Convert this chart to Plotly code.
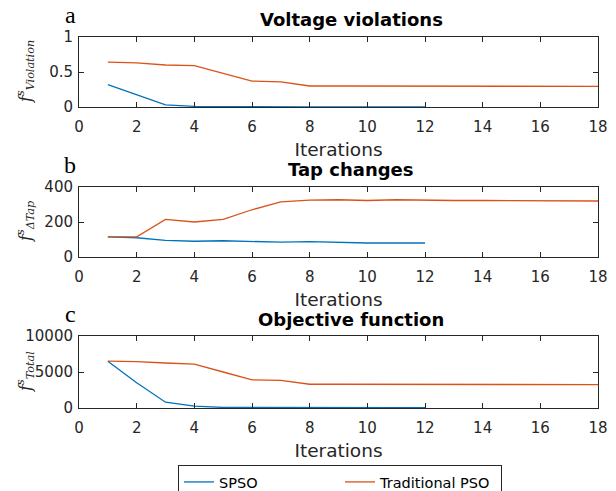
import plotly.graph_objects as go

iters_spso = list(range(1, 13))
iters_trad = list(range(1, 19))

volt_spso = [0.32, 0.17, 0.03, 0.01, 0.005, 0.0, 0.0, 0.0, 0.0, 0.0, 0.0, 0.0]
volt_trad = [0.64, 0.63, 0.60, 0.59, 0.48, 0.37, 0.36, 0.30, 0.30, 0.30, 0.30, 0.30,
             0.30, 0.30, 0.30, 0.295, 0.295, 0.295]

tap_spso = [115, 110, 95, 90, 93, 91, 85, 88, 83, 80, 80, 80]
tap_trad = [115, 115, 215, 200, 215, 270, 315, 325, 327, 323, 327, 323,
            323, 323, 323, 320, 320, 320]

obj_spso = [6500, 3500, 800, 250, 80, 60, 50, 50, 50, 50, 50, 50]
obj_trad = [6500, 6450, 6250, 6100, 5000, 3900, 3850, 3300, 3300, 3300, 3300, 3300,
            3300, 3300, 3300, 3250, 3250, 3250]

titles = ["Voltage violations", "Tap changes", "Objective function"]
panel_letters = ["a", "b", "c"]
ylabels = ["<i>f</i><sup><i>s</i></sup><sub><i>Violation</i></sub>",
           "<i>f</i><sup><i>s</i></sup><sub><i>ΔTap</i></sub>",
           "<i>f</i><sup><i>s</i></sup><sub><i>Total</i></sub>"]
yranges = [[0, 1], [0, 400], [0, 10000]]
ytickvals = [[0, 0.5, 1], [0, 200, 400], [0, 5000, 10000]]
yticktext = [["0", "0.5", "1"], ["0", "200", "400"], ["0", "5000", "10000"]]
xtickvals = list(range(0, 19, 2))

BLUE = "#0072BD"
ORANGE = "#D95319"
AX = "#262626"
W, H = 616, 491

# pixel layout
xl, xr = 79, 598
panels_px = [(37, 107), (187, 257), (336, 408)]

fig = go.Figure()
series = [(volt_spso, volt_trad), (tap_spso, tap_trad), (obj_spso, obj_trad)]
for i, (s, t) in enumerate(series):
    ax = "" if i == 0 else str(i + 1)
    fig.add_trace(go.Scatter(x=iters_spso, y=s, mode="lines", line=dict(color=BLUE, width=1.3),
                             name="SPSO", showlegend=(i == 0), xaxis="x" + ax, yaxis="y" + ax))
    fig.add_trace(go.Scatter(x=iters_trad, y=t, mode="lines", line=dict(color=ORANGE, width=1.3),
                             name="Traditional PSO", showlegend=(i == 0), xaxis="x" + ax, yaxis="y" + ax))

layout = dict(width=W, height=H, margin=dict(l=0, r=0, t=0, b=0, autoexpand=False),
              paper_bgcolor="white", plot_bgcolor="white",
              font=dict(family="DejaVu Sans", color=AX, size=15))
annotations = []
for i in range(3):
    ax = "" if i == 0 else str(i + 1)
    top, bot = panels_px[i]
    dom_y = [1 - bot / H, 1 - top / H]
    axis_common = dict(showline=True, linecolor=AX, linewidth=1, mirror="ticks",
                       ticks="inside", ticklen=5, tickcolor=AX, showgrid=False,
                       zeroline=False, automargin=False,
                       tickfont=dict(size=15, family="DejaVu Sans", color=AX))
    layout["xaxis" + ax] = dict(axis_common, domain=[xl / W, xr / W], range=[0, 18],
                                tickvals=xtickvals, anchor="y" + ax, ticklabelstandoff=6,
                                title=dict(text="Iterations", font=dict(size=18.5, family="DejaVu Sans", color=AX),
                                           standoff=8))
    layout["yaxis" + ax] = dict(axis_common, domain=dom_y, range=yranges[i],
                                tickvals=ytickvals[i], ticktext=yticktext[i],
                                anchor="x" + ax, ticklabelstandoff=2)
    annotations.append(dict(text=ylabels[i], x=25 / W, y=1 - (top + bot) / 2 / H,
                            xref="paper", yref="paper", xanchor="center", yanchor="middle",
                            textangle=-90, showarrow=False,
                            font=dict(size=16, family="DejaVu Serif", color=AX)))
    annotations.append(dict(text="<b>" + titles[i] + "</b>", x=351 / W, y=1 - (top - 17) / H,
                            xref="paper", yref="paper", xanchor="center", yanchor="middle",
                            showarrow=False, font=dict(size=18, family="DejaVu Sans", color="black")))
    annotations.append(dict(text=panel_letters[i], x=70 / W, y=1 - (top - 37) / H,
                            xref="paper", yref="paper", xanchor="center", yanchor="top",
                            showarrow=False, font=dict(size=24, family="Liberation Serif", color="black")))
layout["annotations"] = annotations
layout["legend"] = dict(orientation="h", x=178 / W, xanchor="left", y=1 - 465 / H, yanchor="top",
                        bordercolor=AX, borderwidth=1, bgcolor="white",
                        font=dict(size=14.5, family="DejaVu Sans", color="black"),
                        entrywidth=116, itemwidth=30)
fig.update_layout(**layout)
fig.write_html("out.html", config={"displayModeBar": False},
               post_script="document.body.style.margin='0';document.body.style.overflow='hidden';")
